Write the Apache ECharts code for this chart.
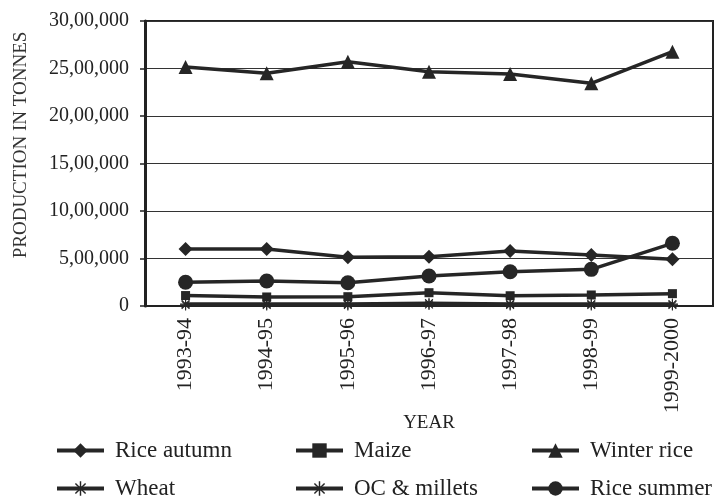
<!DOCTYPE html>
<html>
<head>
<meta charset="utf-8">
<script src="https://cdn.jsdelivr.net/npm/echarts@6/dist/echarts.min.js"></script>
<style>
html,body{margin:0;padding:0;background:#fff;}
#chart{width:715px;height:499px;}
</style>
</head>
<body>
<div id="chart"></div>
<script>
var categories = ['1993-94','1994-95','1995-96','1996-97','1997-98','1998-99','1999-2000'];
var riceAutumn = [600000, 600000, 513000, 519000, 579000, 537000, 491000];
var maize = [110000, 95000, 98000, 140000, 108000, 116000, 130000];
var winterRice = [2516000, 2450000, 2572000, 2466000, 2442000, 2344000, 2677000];
var wheat = [20000, 20000, 20000, 30000, 20000, 20000, 20000];
var ocMillets = [10000, 10000, 10000, 15000, 10000, 10000, 10000];
var riceSummer = [250000, 263000, 245000, 316000, 361000, 386000, 660000];
var yTicks = { min: 0, max: 3000000, interval: 500000 };

function indianFormat(v) {
  if (v === 0) return '0';
  var s = String(Math.round(v));
  if (s.length <= 3) return s;
  var last3 = s.slice(-3);
  var rest = s.slice(0, -3).replace(/\B(?=(\d{2})+(?!\d))/g, ',');
  return rest + ',' + last3;
}

var INK = '#262626';
var FONT = '"Liberation Serif", "DejaVu Serif", serif';
var star = 'path://M-1,-10H1V10H-1Z M-10,-1H10V1H-10Z M-7.78,-6.36L-6.36,-7.78L7.78,6.36L6.36,7.78Z M6.36,-7.78L7.78,-6.36L-6.36,7.78L-7.78,6.36Z';

function mk(name, data, symbol, size) {
  return {
    name: name, type: 'line', data: data,
    symbol: symbol, symbolSize: size, showSymbol: true,
    lineStyle: { color: INK, width: 3.5 },
    itemStyle: { color: INK, borderWidth: 0 },
    emphasis: { disabled: true },
    animation: false
  };
}

function leg(name, left, top) {
  return {
    data: [name], left: left, top: top, padding: 0,
    itemWidth: 47, itemHeight: 18, selectedMode: false,
    lineStyle: { width: 4, color: INK },
    itemStyle: { color: INK },
    textStyle: { fontFamily: FONT, fontSize: 23, color: '#222', padding: [0, 0, 0, 6] }
  };
}

var chart = echarts.init(document.getElementById('chart'));
chart.setOption({
  backgroundColor: '#fff',
  animation: false,
  grid: { left: 145, right: 2, top: 21, bottom: 193, show: true, borderColor: '#222', borderWidth: 2, backgroundColor: 'transparent' },
  xAxis: {
    type: 'category', data: categories, boundaryGap: true,
    axisLine: { lineStyle: { color: '#222', width: 2 } },
    axisTick: { inside: true, length: 7, lineStyle: { color: '#222', width: 1.5 } },
    axisLabel: { rotate: 90, margin: 12, fontFamily: FONT, fontSize: 22, color: '#222' }
  },
  yAxis: {
    type: 'value', min: yTicks.min, max: yTicks.max, interval: yTicks.interval,
    axisLine: { show: true, lineStyle: { color: '#222', width: 3 } },
    axisTick: { show: true, length: 5, lineStyle: { color: '#222', width: 1.5 } },
    axisLabel: { margin: 16, fontFamily: FONT, fontSize: 20, color: '#222', formatter: indianFormat },
    splitLine: { show: true, lineStyle: { color: '#333', width: 1 } }
  },
  legend: [
    leg('Rice autumn', 55, 439),
    leg('Maize', 294, 439),
    leg('Winter rice', 530, 439),
    leg('Wheat', 55, 477),
    leg('OC & millets', 294, 477),
    leg('Rice summer', 530, 477)
  ],
  graphic: [{
    type: 'text', x: 21, y: 145, rotation: Math.PI / 2,
    style: { text: 'PRODUCTION IN TONNES', fontFamily: FONT, fontSize: 19, fill: '#333', align: 'center', verticalAlign: 'middle' }
  }, {
    type: 'text', x: 429, y: 423,
    style: { text: 'YEAR', fontFamily: FONT, fontSize: 19, fill: '#222', align: 'center', verticalAlign: 'middle' }
  }],
  series: [
    mk('Rice autumn', riceAutumn, 'diamond', 14),
    mk('Maize', maize, 'rect', 9),
    mk('Winter rice', winterRice, 'triangle', 14),
    mk('Wheat', wheat, star, 11),
    mk('OC & millets', ocMillets, star, 11),
    mk('Rice summer', riceSummer, 'circle', 15)
  ]
});
</script>
</body>
</html>
